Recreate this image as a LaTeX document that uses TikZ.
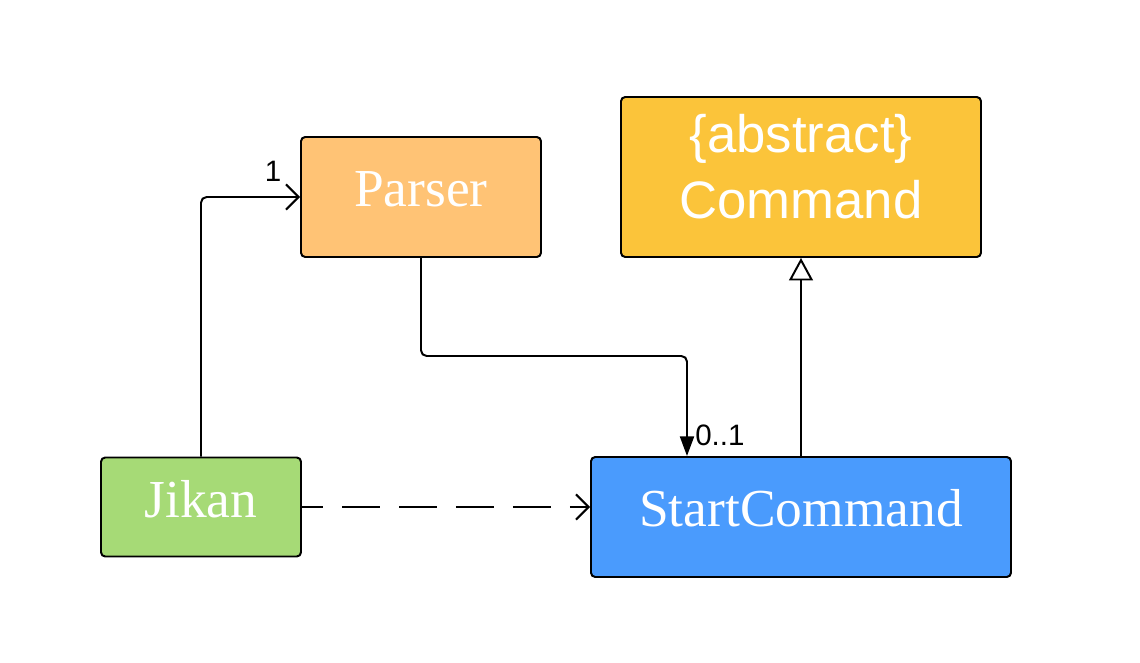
\documentclass[tikz,border=0pt]{standalone}
\usepackage{fontspec}
\setmainfont{Liberation Serif}
\setsansfont{Liberation Sans}
\usetikzlibrary{arrows.meta}
\definecolor{parserc}{HTML}{FFC375}
\definecolor{commandc}{HTML}{FBC43A}
\definecolor{jikanc}{HTML}{A6DA76}
\definecolor{startc}{HTML}{4A9BFD}
\begin{document}
\begin{tikzpicture}[x=0.025cm,y=-0.025cm,
  cls/.style={draw=black,line width=1.4pt,rounded corners=3pt,inner sep=0pt},
  txt/.style={text=white,inner sep=0pt,anchor=base},
  serifbig/.style={font=\fontsize{38}{44}\selectfont\rmfamily},
  sansbig/.style={font=\fontsize{37.5}{44}\selectfont\sffamily},
  conn/.style={line width=1.4pt,rounded corners=4pt},
  lbl/.style={font=\fontsize{21}{25}\selectfont\sffamily,inner sep=0pt}]
\useasboundingbox (0,0) rectangle (1140,663);
\node[cls,fill=parserc,minimum width=240*0.025cm,minimum height=120*0.025cm] (parser) at (421,197) {};
\node[txt,serifbig] (parsert) at (421,207) {Parser};
\node[cls,fill=commandc,minimum width=360*0.025cm,minimum height=160*0.025cm] (command) at (801,177) {};
\node[txt,sansbig] (commandt1) at (801,153) {\{abstract\}};
\node[txt,sansbig] (commandt2) at (801,219) {Command};
\node[cls,fill=jikanc,minimum width=200*0.025cm,minimum height=99*0.025cm] (jikan) at (201,507) {};
\node[txt,serifbig] (jikant) at (201,517.5) {Jikan};
\node[cls,fill=startc,minimum width=420*0.025cm,minimum height=120*0.025cm] (start) at (801,517) {};
\node[txt,serifbig] (startt) at (801,526) {StartCommand};
% Jikan -> Parser
\draw[conn,-{Straight Barb[length=9pt,width=18pt,line width=1.4pt]}] (jikan.north) |- (parser.west);
\node[lbl] (one) at (273,171) {1};
% Parser -> StartCommand
\coordinate (pstart) at (687,457);
\draw[conn,-{Triangle[length=14pt,width=10pt]}] (parser.south) -- (421,356) -- (687,356) -- (start.north -| pstart);
\node[lbl,anchor=south west] (mult) at (695,446) {0..1};
% StartCommand -> Command (generalization)
\draw[line width=1.4pt,-{Triangle[open,length=16pt,width=17pt,line width=1.4pt]}] (start.north) -- (command.south);
% Jikan -> StartCommand dashed
\coordinate (dend) at (start.west |- jikan.east);
\draw[line width=1.4pt,dash pattern=on 27pt off 13.5pt,dash phase=12pt,-{Straight Barb[length=9pt,width=18pt,line width=1.4pt]}] (jikan.east) -- (dend);
\end{tikzpicture}
\end{document}
